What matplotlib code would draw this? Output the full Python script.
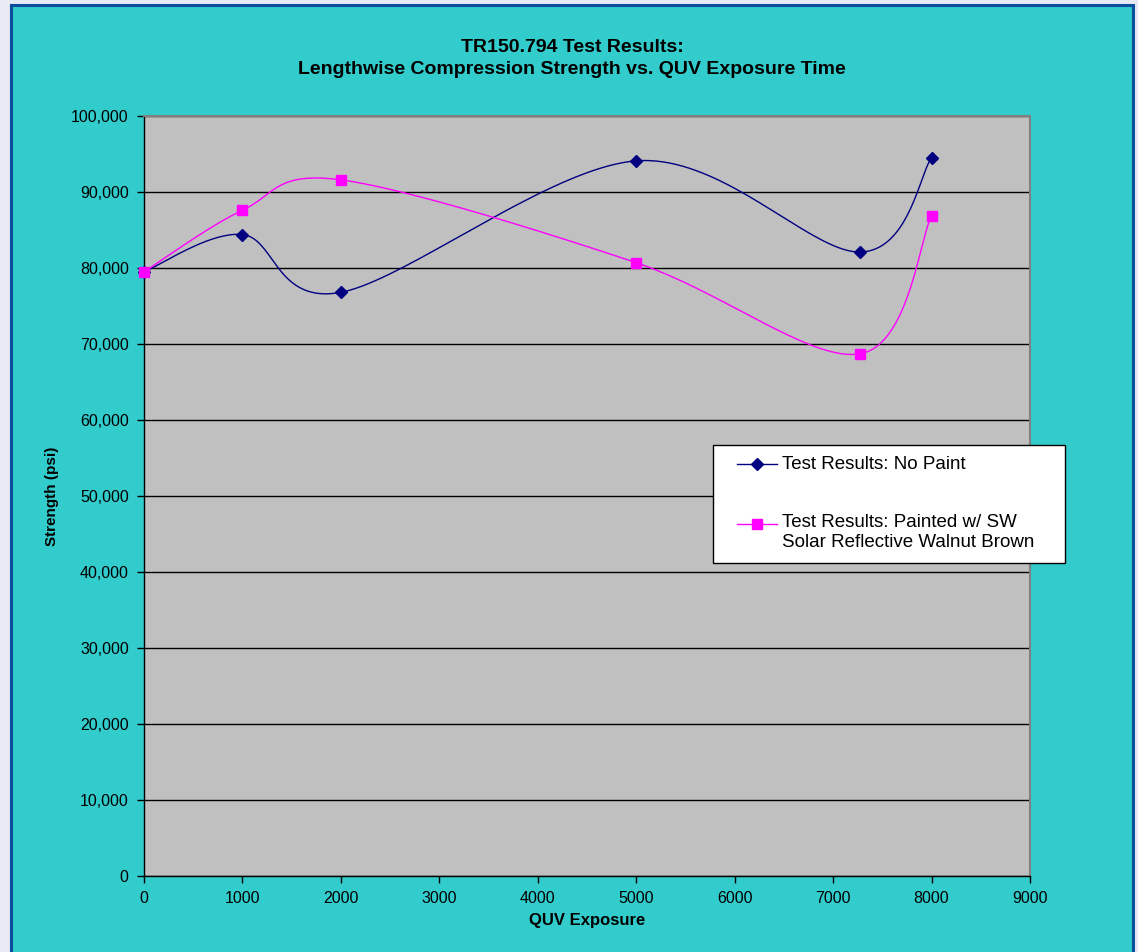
import numpy as np
import matplotlib
matplotlib.use("Agg")
import matplotlib.pyplot as plt
from matplotlib.patches import Rectangle
from matplotlib.lines import Line2D
from matplotlib.ticker import FuncFormatter

plt.rcParams['font.family'] = ['Liberation Sans', 'DejaVu Sans']

# QUV exposure hours and lengthwise compression strength (psi)
exposure = [0, 1000, 2000, 5000, 7270, 8000]
no_paint = [79500, 84400, 76800, 94100, 82100, 94500]
painted = [79500, 87600, 91600, 80700, 68700, 86900]

series_names = ['Test Results: No Paint',
                'Test Results: Painted w/ SW\nSolar Reflective Walnut Brown']

W, H = 1138, 952


def fx(x):
    return x / W


def fy(y):
    return 1 - y / H


def smooth(ax, xs, ys, n=40):
    # excel style bezier smoothing, done in screen space
    pts = ax.transData.transform(np.column_stack([xs, ys]))
    ext = np.vstack([pts[0], pts, pts[-1]])
    t = np.linspace(0, 1, n)[:, None]
    out = []
    for i in range(len(pts) - 1):
        p0, p1, p2, p3 = ext[i], ext[i + 1], ext[i + 2], ext[i + 3]
        c1 = p1 + (p2 - p0) / 6
        c2 = p2 - (p3 - p1) / 6
        seg = (1 - t) ** 3 * p1 + 3 * (1 - t) ** 2 * t * c1 + 3 * (1 - t) * t ** 2 * c2 + t ** 3 * p2
        out.append(seg)
    curve = ax.transData.inverted().transform(np.vstack(out))
    return curve[:, 0], curve[:, 1]


fig = plt.figure(figsize=(W / 100, H / 100), dpi=100)
fig.patch.set_facecolor('#E7E9F5')

# teal chart panel with dark blue frame
fig.patches.append(Rectangle((fx(11), fy(980)), (1133 - 11) / W, 975 / H,
                             transform=fig.transFigure, facecolor='#33CCCC',
                             edgecolor='#0B4F9C', linewidth=2.2, zorder=-5))

ax = fig.add_axes([fx(144), fy(876), (1030 - 144) / W, (876 - 116) / H])
ax.set_facecolor('#C0C0C0')
ax.set_xlim(0, 9000)
ax.set_ylim(0, 100000)
ax.set_xticks(np.arange(0, 9001, 1000))
ax.set_yticks(np.arange(0, 100001, 10000))
ax.yaxis.set_major_formatter(FuncFormatter(lambda v, p: '{:,.0f}'.format(v)))
ax.tick_params(direction='out', length=5, width=1, colors='black', labelsize=11.5)
ax.tick_params(axis='x', pad=6)
ax.tick_params(axis='y', pad=6)
ax.grid(axis='y', color='black', linewidth=1)
ax.set_axisbelow(True)
for side in ['top', 'right']:
    ax.spines[side].set_color('#808080')
    ax.spines[side].set_linewidth(1.5)
for side in ['left', 'bottom']:
    ax.spines[side].set_color('black')
    ax.spines[side].set_linewidth(1)

sx, sy = smooth(ax, exposure, no_paint)
ax.plot(sx, sy, color='#000080', linewidth=1, zorder=3)
ax.plot(exposure, no_paint, linestyle='none', marker='D', markersize=6.5,
        color='#000080', zorder=4, clip_on=False)

sx, sy = smooth(ax, exposure, painted)
ax.plot(sx, sy, color='#FF00FF', linewidth=1, zorder=3)
ax.plot(exposure, painted, linestyle='none', marker='s', markersize=7.5,
        color='#FF00FF', zorder=5, clip_on=False)

fig.text(fx(572), fy(47), 'TR150.794 Test Results:', ha='center', va='center',
         fontsize=14, fontweight='bold')
fig.text(fx(572), fy(70), 'Lengthwise Compression Strength vs. QUV Exposure Time',
         ha='center', va='center', fontsize=14, fontweight='bold')
fig.text(fx(587), fy(921), 'QUV Exposure', ha='center', va='center',
         fontsize=12, fontweight='bold')
fig.text(fx(52), fy(496), 'Strength (psi)', ha='center', va='center',
         rotation=90, fontsize=11, fontweight='bold')

# legend box
fig.patches.append(Rectangle((fx(713), fy(563)), (1065 - 713) / W, (563 - 445) / H,
                             transform=fig.transFigure, facecolor='white',
                             edgecolor='black', linewidth=1, zorder=6))
fig.lines.append(Line2D([fx(737), fx(777)], [fy(464), fy(464)], transform=fig.transFigure,
                        color='#000080', linewidth=1, zorder=7))
fig.lines.append(Line2D([fx(757)], [fy(464)], transform=fig.transFigure, marker='D',
                        markersize=6.5, color='#000080', zorder=8))
fig.lines.append(Line2D([fx(737), fx(777)], [fy(524), fy(524)], transform=fig.transFigure,
                        color='#FF00FF', linewidth=1, zorder=7))
fig.lines.append(Line2D([fx(757)], [fy(524)], transform=fig.transFigure, marker='s',
                        markersize=7.5, color='#FF00FF', zorder=8))
fig.text(fx(782), fy(464), series_names[0], ha='left', va='center', fontsize=13.5, zorder=9)
fig.text(fx(782), fy(514), series_names[1], ha='left', va='top', fontsize=13.5,
         linespacing=1.2, zorder=9)

fig.savefig('out.png', dpi=100, facecolor=fig.get_facecolor())
